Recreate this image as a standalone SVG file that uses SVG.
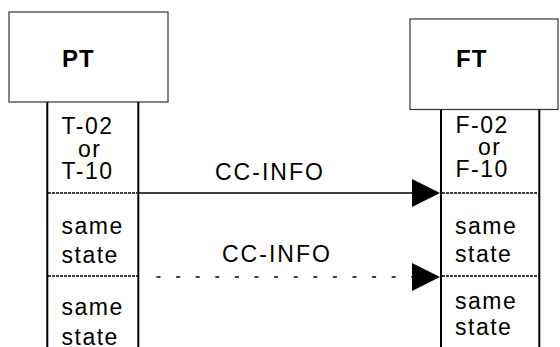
<svg xmlns="http://www.w3.org/2000/svg" width="560" height="347" viewBox="0 0 560 347">
<style>
.box{fill:#fff;stroke:#333;stroke-width:1.2}
.life{stroke:#000;stroke-width:2;fill:none}
.sep{stroke:#000;stroke-width:1.6;stroke-dasharray:3 1;fill:none}
.t{font-family:"Liberation Sans",Arial,sans-serif;font-size:23px;fill:#000;letter-spacing:1.5px}
.h{font-family:"Liberation Sans",Arial,sans-serif;font-size:24px;font-weight:bold;fill:#000;letter-spacing:1px}
.msg{stroke:#000;stroke-width:1.3;fill:none}
.dash{stroke:#000;stroke-width:1.3;fill:none;stroke-dasharray:4 15.6}
.lbl{font-family:"Liberation Sans",Arial,sans-serif;font-size:23px;fill:#000;letter-spacing:2px}
</style>
<defs>
<polygon id="head" points="-28,-14 0,0 -28,14" fill="#000"/>
</defs>
<g id="PT">
<rect class="box" x="9" y="12" width="159" height="90"/>
<text class="h" x="62" y="67">PT</text>
<line class="life" x1="47.3" y1="102" x2="47.3" y2="347"/>
<line class="life" x1="138.3" y1="102" x2="138.3" y2="347"/>
<text class="t" x="61.5" y="134">T-02</text>
<text class="t" x="78" y="157">or</text>
<text class="t" x="61.5" y="179">T-10</text>
<line class="sep" x1="48" y1="193" x2="137.5" y2="193"/>
<text class="t" x="61.5" y="234">same</text>
<text class="t" x="61.5" y="263">state</text>
<line class="sep" x1="48" y1="276" x2="137.5" y2="276"/>
<text class="t" x="61.5" y="315">same</text>
<text class="t" x="61.5" y="345">state</text>
</g>
<g id="FT">
<rect class="box" x="410" y="19" width="148" height="90.5"/>
<text class="h" x="456" y="67">FT</text>
<line class="life" x1="441" y1="109.5" x2="441" y2="347"/>
<line class="life" x1="539.3" y1="109.5" x2="539.3" y2="347"/>
<text class="t" x="455.5" y="133">F-02</text>
<text class="t" x="478" y="155">or</text>
<text class="t" x="455.5" y="177">F-10</text>
<line class="sep" x1="442" y1="193" x2="538.5" y2="193"/>
<text class="t" x="455" y="234">same</text>
<text class="t" x="455" y="262">state</text>
<line class="sep" x1="442" y1="276" x2="538.5" y2="276"/>
<text class="t" x="455" y="309">same</text>
<text class="t" x="455" y="335">state</text>
</g>
<g id="connectors">
<line class="msg" x1="139" y1="193" x2="414" y2="193"/>
<use href="#head" x="440" y="193"/>
<text class="lbl" x="215" y="180">CC-INFO</text>
<line class="dash" x1="156.5" y1="277" x2="412" y2="277"/>
<use href="#head" x="440" y="277"/>
<text class="lbl" x="222" y="262">CC-INFO</text>
</g>
</svg>
